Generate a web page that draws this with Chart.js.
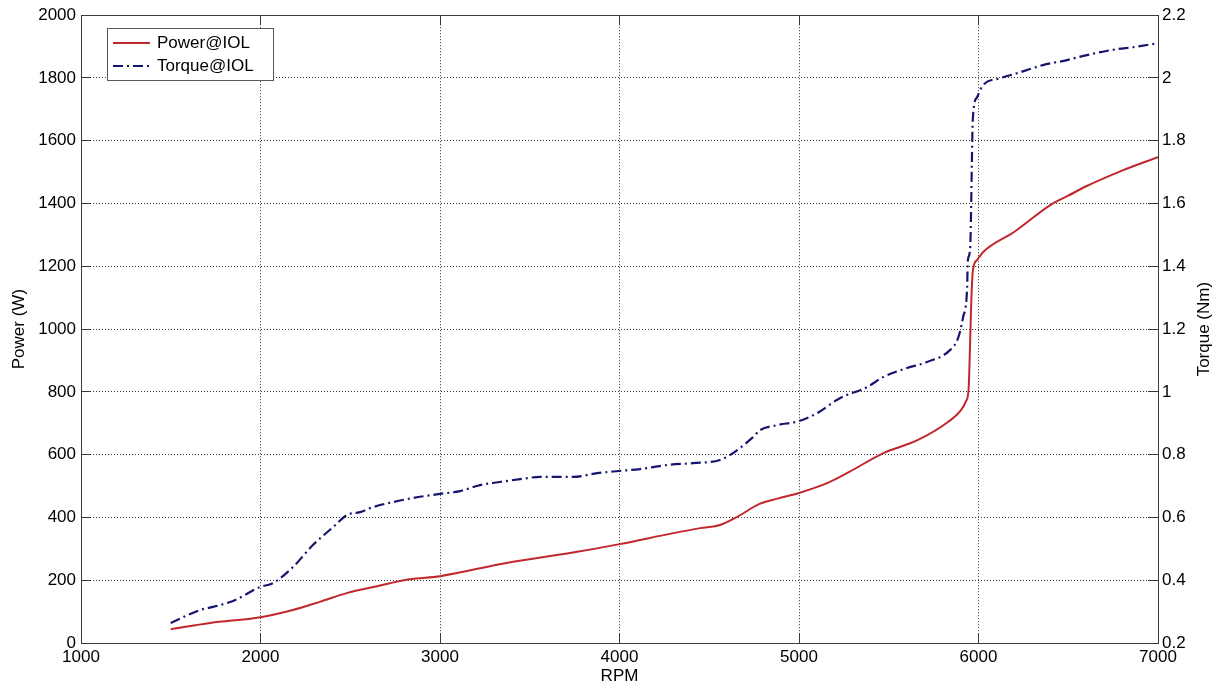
<!DOCTYPE html>
<html>
<head>
<meta charset="utf-8">
<title>Power / Torque vs RPM</title>
<script src="https://cdn.jsdelivr.net/npm/chart.js@4.4.0/dist/chart.umd.min.js"></script>
<style>
  html, body { margin: 0; padding: 0; background: #fff; }
</style>
</head>
<body>
<canvas id="chart" width="1221" height="690"></canvas>
<script>
// axis ticks
const rpmTicks = [1000, 2000, 3000, 4000, 5000, 6000, 7000];
const powerTicks = [0, 200, 400, 600, 800, 1000, 1200, 1400, 1600, 1800, 2000];
const torqueTicks = [0.2, 0.4, 0.6, 0.8, 1.0, 1.2, 1.4, 1.6, 1.8, 2.0, 2.2];

// Power@IOL (W)
const powerRpm = [1500, 1720, 2000, 2180, 2330, 2480, 2650, 2830, 3000, 3370, 3740, 4000, 4300, 4450, 4560, 4650,
  4780, 4880, 5000, 5160, 5280, 5470, 5660, 5830, 5900, 5930, 5945, 5952, 5960, 5969, 5992, 6025, 6200, 6400, 6500, 6600, 6800, 7000];
const powerW = [44, 64, 82, 105, 131, 159, 181, 203, 213, 255, 288, 315, 350, 366, 376, 400,
  443, 460, 478, 510, 545, 605, 646, 704, 740, 770, 810, 930, 1092, 1188, 1220, 1245, 1310, 1395, 1425, 1455, 1505, 1548];

// Torque@IOL (Nm)
const torqueRpm = [1500, 1663, 1735, 1847, 1997, 2070, 2181, 2292, 2404, 2482, 2554, 2627, 2738, 2850, 3000, 3111,
  3223, 3334, 3446, 3557, 3741, 3875, 3997, 4114, 4265, 4409, 4560, 4632, 4744, 4783, 4877, 5000, 5100, 5228,
  5379, 5468, 5602, 5713, 5841, 5886, 5914, 5936, 5941, 5953, 5969, 5992, 6025, 6120, 6231, 6359, 6493, 6604,
  6772, 6861, 7000];
const torqueNm = [0.264, 0.305, 0.315, 0.334, 0.378, 0.391, 0.442, 0.512, 0.569, 0.608, 0.617, 0.633, 0.649, 0.662, 0.675, 0.684,
  0.703, 0.713, 0.722, 0.729, 0.729, 0.741, 0.748, 0.754, 0.767, 0.773, 0.783, 0.805, 0.856, 0.878, 0.894, 0.907, 0.932, 0.980,
  1.015, 1.047, 1.076, 1.095, 1.133, 1.171, 1.238, 1.324, 1.420, 1.452, 1.875, 1.939, 1.977, 1.999, 2.018, 2.041, 2.057, 2.073,
  2.092, 2.098, 2.111];

const FONT = "'Liberation Sans', Arial, sans-serif";
const tickFont = { family: FONT, size: 17 };

const pairs = (xs, ys) => xs.map((x, i) => ({ x, y: ys[i] }));
const useTicks = values => scale => { scale.ticks = values.map(v => ({ value: v })); };
const fmt = v => String(Math.round(v * 10) / 10);
const align = p => Math.round(p - 0.5) + 0.5;

// box, inward tick marks, right-hand title and the legend
const frame = {
  id: 'frame',
  afterDatasetsDraw(chart) {
    const { ctx, chartArea: a, scales } = chart;
    const L = 10;
    ctx.save();
    ctx.strokeStyle = '#3a3a3a';
    ctx.lineWidth = 1;
    ctx.setLineDash([]);
    ctx.beginPath();
    rpmTicks.forEach(v => {
      const x = align(scales.x.getPixelForValue(v));
      ctx.moveTo(x, a.bottom); ctx.lineTo(x, a.bottom - L);
      ctx.moveTo(x, a.top); ctx.lineTo(x, a.top + L);
    });
    powerTicks.forEach(v => {
      const y = align(scales.y.getPixelForValue(v));
      ctx.moveTo(a.left, y); ctx.lineTo(a.left + L, y);
    });
    torqueTicks.forEach(v => {
      const y = align(scales.y1.getPixelForValue(v));
      ctx.moveTo(a.right, y); ctx.lineTo(a.right - L, y);
    });
    ctx.stroke();
    ctx.strokeRect(align(a.left), align(a.top), Math.round(a.width), Math.round(a.height));

    // right axis title reads bottom-to-top like the left one
    ctx.fillStyle = '#000';
    ctx.font = '17px ' + FONT;
    ctx.textAlign = 'center';
    ctx.textBaseline = 'middle';
    ctx.save();
    ctx.translate(1204, (a.top + a.bottom) / 2);
    ctx.rotate(-Math.PI / 2);
    ctx.fillText('Torque (Nm)', 0, 0);
    ctx.restore();

    // legend
    const bx = 107.5, by = 28.5, bw = 166, bh = 52;
    ctx.fillStyle = '#fff';
    ctx.fillRect(bx, by, bw, bh);
    ctx.strokeStyle = '#5a5a5a';
    ctx.strokeRect(bx, by, bw, bh);
    const rows = [43, 66];
    chart.data.datasets.forEach((ds, i) => {
      const y = rows[i];
      ctx.strokeStyle = ds.borderColor;
      ctx.lineWidth = ds.borderWidth;
      ctx.setLineDash(ds.borderDash || []);
      ctx.beginPath();
      ctx.moveTo(113, y); ctx.lineTo(150, y);
      ctx.stroke();
      ctx.setLineDash([]);
      ctx.fillStyle = '#000';
      ctx.textAlign = 'left';
      ctx.fillText(ds.label, 157, y);
    });
    ctx.restore();
  }
};

new Chart(document.getElementById('chart'), {
  type: 'line',
  data: {
    datasets: [
      {
        label: 'Power@IOL',
        data: pairs(powerRpm, powerW),
        yAxisID: 'y',
        borderColor: '#c0282d',
        borderWidth: 2,
        pointRadius: 0,
        cubicInterpolationMode: 'monotone'
      },
      {
        label: 'Torque@IOL',
        data: pairs(torqueRpm, torqueNm),
        yAxisID: 'y1',
        borderColor: '#16166e',
        borderWidth: 2.2,
        borderDash: [10, 4, 2, 4],
        pointRadius: 0,
        cubicInterpolationMode: 'monotone'
      }
    ]
  },
  options: {
    responsive: false,
    animation: false,
    layout: { padding: { top: 15, left: 0, right: 0, bottom: 0 } },
    plugins: { legend: { display: false }, tooltip: { enabled: false } },
    scales: {
      x: {
        type: 'linear',
        min: 1000, max: 7000,
        afterBuildTicks: useTicks(rpmTicks),
        afterFit: s => { s.height = 47; },
        ticks: { font: tickFont, color: '#000', padding: 4, maxRotation: 0, callback: fmt },
        grid: { color: '#333', lineWidth: 1, drawTicks: false },
        border: { display: false, dash: [1, 2] },
        title: { display: true, text: 'RPM', font: tickFont, color: '#000', padding: { top: 0, bottom: 3 } }
      },
      y: {
        position: 'left',
        min: 0, max: 2000,
        afterBuildTicks: useTicks(powerTicks),
        afterFit: s => { s.width = 81; },
        ticks: { font: tickFont, color: '#000', padding: 5, callback: fmt },
        grid: { color: '#333', lineWidth: 1, drawTicks: false },
        border: { display: false, dash: [1, 2] },
        title: { display: true, text: 'Power (W)', font: tickFont, color: '#000', padding: { top: 9, bottom: 0 } }
      },
      y1: {
        position: 'right',
        min: 0.2, max: 2.2,
        afterBuildTicks: useTicks(torqueTicks),
        afterFit: s => { s.width = 63; },
        ticks: { font: tickFont, color: '#000', padding: 4, callback: fmt },
        grid: { drawOnChartArea: false, drawTicks: false },
        border: { display: false }
      }
    }
  },
  plugins: [frame]
});
</script>
</body>
</html>
